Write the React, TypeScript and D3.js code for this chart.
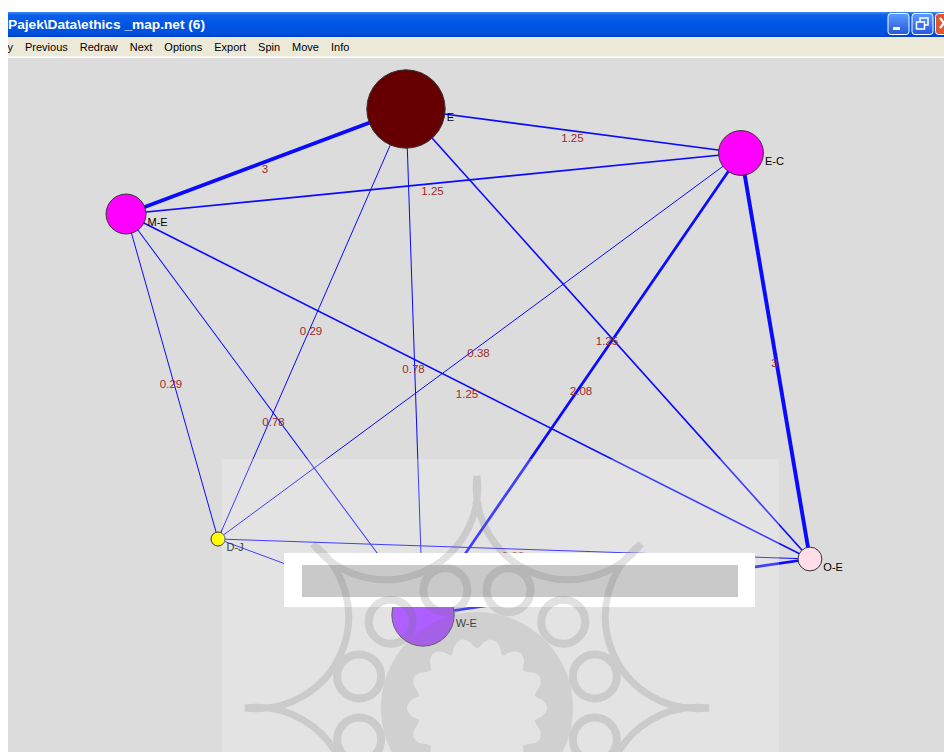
import { useEffect, useRef } from "react";
import * as d3 from "d3";

// Pajek network: vertex layout in Pajek's 0..1 coordinates
const nodeNames = ["E", "M-E", "E-C", "D-J", "O-E", "W-E"];
const nodeX = [0.4252, 0.1261, 0.7831, 0.2244, 0.8568, 0.4434];
const nodeY = [0.0735, 0.2248, 0.1369, 0.6931, 0.7219, 0.8026];
const nodeSize = [5.6, 2.85, 3.2, 1.0, 1.7, 4.45];
const nodeColors = ["#660000", "#ff00ff", "#ff00ff", "#ffff00", "#ffdde9", "#9933ff"];

// edges (source, target, value)
const edgeSource = ["E", "E", "E", "E", "E", "M-E", "M-E", "M-E", "M-E", "E-C", "E-C", "E-C", "D-J", "D-J", "W-E"];
const edgeTarget = ["M-E", "E-C", "D-J", "W-E", "O-E", "E-C", "D-J", "W-E", "O-E", "D-J", "W-E", "O-E", "O-E", "W-E", "O-E"];
const edgeValues = [3, 1.25, 0.29, 0.78, 1.25, 1.25, 0.29, 0.78, 1.25, 0.38, 2.08, 3, 0.38, 0.38, 2.08];

const menuItems = ["y", "Previous", "Redraw", "Next", "Options", "Export", "Spin", "Move", "Info"];
const windowTitle = "Pajek\\Data\\ethics _map.net (6)";

const W = 944;
const H = 752;

export default function App() {
  const ref = useRef<SVGSVGElement>(null);

  useEffect(() => {
    const svg = d3.select(ref.current);
    svg.selectAll("*").remove();

    const defs = svg.append("defs");
    const tg = defs.append("linearGradient").attr("id", "titlebar").attr("x1", 0).attr("y1", 0).attr("x2", 0).attr("y2", 1);
    [
      [0, "#3d8df5"],
      [0.12, "#0b5fe8"],
      [0.5, "#0055e5"],
      [0.88, "#0050dc"],
      [1, "#003fc4"],
    ].forEach(([o, c]) => tg.append("stop").attr("offset", o as number).attr("stop-color", c as string));
    const bg = defs.append("linearGradient").attr("id", "btn").attr("x1", 0).attr("y1", 0).attr("x2", 0).attr("y2", 1);
    bg.append("stop").attr("offset", 0).attr("stop-color", "#5d9bff");
    bg.append("stop").attr("offset", 1).attr("stop-color", "#2458dc");

    // page + window chrome
    svg.append("rect").attr("width", W).attr("height", H).attr("fill", "#ffffff");
    svg.append("rect").attr("x", 8).attr("y", 12).attr("width", W - 8).attr("height", 25).attr("fill", "url(#titlebar)");
    svg
      .append("text")
      .attr("x", 8)
      .attr("y", 29)
      .attr("fill", "#ffffff")
      .attr("font-family", "Liberation Sans, Arial, sans-serif")
      .attr("font-weight", "bold")
      .attr("font-size", 13)
      .attr("textLength", 197)
      .attr("lengthAdjust", "spacingAndGlyphs")
      .text(windowTitle);

    // title buttons
    const btn = svg.append("g");
    btn.append("rect").attr("x", 888).attr("y", 13.5).attr("width", 21).attr("height", 21).attr("rx", 3).attr("fill", "url(#btn)").attr("stroke", "#ffffff");
    btn.append("rect").attr("x", 893).attr("y", 27).attr("width", 7).attr("height", 3).attr("fill", "#ffffff");
    btn.append("rect").attr("x", 912).attr("y", 13.5).attr("width", 21).attr("height", 21).attr("rx", 3).attr("fill", "url(#btn)").attr("stroke", "#ffffff");
    btn.append("rect").attr("x", 920).attr("y", 18).attr("width", 8).attr("height", 7).attr("fill", "none").attr("stroke", "#ffffff").attr("stroke-width", 1.5);
    btn.append("rect").attr("x", 916.5).attr("y", 22).attr("width", 8).attr("height", 7).attr("fill", "#3a6fe8").attr("stroke", "#ffffff").attr("stroke-width", 1.5);
    btn.append("rect").attr("x", 935.5).attr("y", 13.5).attr("width", 21).attr("height", 21).attr("rx", 3).attr("fill", "#e2562f").attr("stroke", "#ffffff");
    btn.append("path").attr("d", "M940,18 L948,28 M948,18 L940,28").attr("stroke", "#ffffff").attr("stroke-width", 2.2);

    // menu bar
    svg.append("rect").attr("x", 8).attr("y", 37).attr("width", W - 8).attr("height", 20).attr("fill", "#ece9d8");
    svg.append("rect").attr("x", 8).attr("y", 56).attr("width", W - 8).attr("height", 1.5).attr("fill", "#f6f5ef");
    let mx = 7.5;
    menuItems.forEach((m) => {
      const t = svg
        .append("text")
        .attr("x", mx)
        .attr("y", 50.5)
        .attr("font-family", "Liberation Sans, Arial, sans-serif")
        .attr("font-size", 11)
        .attr("fill", "#000000")
        .text(m);
      mx += (t.node() as SVGTextElement).getComputedTextLength() + 12;
    });

    // drawing area
    svg.append("rect").attr("x", 8).attr("y", 58).attr("width", W - 8).attr("height", H - 58).attr("fill", "#dcdcdc");

    const x = d3.scaleLinear().domain([0, 1]).range([8, W]);
    const y = d3.scaleLinear().domain([0, 1]).range([58, H]);
    const r = d3.scaleLinear().domain([0, 1]).range([0, 7]);
    const w = d3.scaleLinear().domain([0, 3]).range([0, 3.9]);

    const nodes = nodeNames.map((name, i) => ({
      name,
      cx: x(nodeX[i]),
      cy: y(nodeY[i]),
      r: r(nodeSize[i]),
      color: nodeColors[i],
    }));
    const byName = new Map(nodes.map((n) => [n.name, n]));
    const edges = edgeValues.map((v, i) => ({
      s: byName.get(edgeSource[i])!,
      t: byName.get(edgeTarget[i])!,
      v,
    }));

    const g = svg.append("g");
    g.selectAll(".edge")
      .data(edges)
      .enter()
      .append("line")
      .attr("x1", (d) => d.s.cx)
      .attr("y1", (d) => d.s.cy)
      .attr("x2", (d) => d.t.cx)
      .attr("y2", (d) => d.t.cy)
      .attr("stroke", "#0a0aff")
      .attr("stroke-width", (d) => Math.max(1, w(d.v)));

    g.selectAll(".edge-label")
      .data(edges)
      .enter()
      .append("text")
      .attr("x", (d) => (d.s.cx + d.t.cx) / 2 - 1)
      .attr("y", (d) => (d.s.cy + d.t.cy) / 2 + 11)
      .attr("text-anchor", "middle")
      .attr("font-family", "Liberation Sans, Arial, sans-serif")
      .attr("font-size", 11.5)
      .attr("fill", "#9c2b2b")
      .text((d) => d3.format(".2~f")(d.v));

    g.selectAll(".node")
      .data(nodes)
      .enter()
      .append("circle")
      .attr("cx", (d) => d.cx)
      .attr("cy", (d) => d.cy)
      .attr("r", (d) => d.r)
      .attr("fill", (d) => d.color)
      .attr("stroke", "#333333")
      .attr("stroke-width", 1);

    g.selectAll(".node-label")
      .data(nodes)
      .enter()
      .append("text")
      .attr("x", (d) => d.cx + d.r + 1.5)
      .attr("y", (d) => d.cy + 12)
      .attr("font-family", "Liberation Sans, Arial, sans-serif")
      .attr("font-size", 11)
      .attr("fill", "#000000")
      .text((d) => d.name);

    // lighter watermark panel
    svg.append("rect").attr("x", 222).attr("y", 459).attr("width", 557).attr("height", H - 459).attr("fill", "#ffffff").attr("opacity", 0.22);

    // white caption box with grey bar
    svg.append("rect").attr("x", 284).attr("y", 553).attr("width", 471).attr("height", 54).attr("fill", "#ffffff");
    svg.append("rect").attr("x", 302).attr("y", 565).attr("width", 436).attr("height", 32).attr("fill", "#c9c9c9");

    // mandala watermark
    const cx = 477;
    const cy = 708;
    const wm = svg.append("g").attr("opacity", 0.2).attr("fill", "#6e6e6e").attr("stroke", "#6e6e6e");
    const pol = (a: number, rad: number): [number, number] => [
      cx + rad * Math.cos((a * Math.PI) / 180),
      cy + rad * Math.sin((a * Math.PI) / 180),
    ];

    // concave star arms: arc from one tip to the next, bowing toward the centre
    let star = "";
    for (let k = 0; k < 8; k++) {
      const a = -90 + 45 * k;
      const [tx, ty] = pol(a, 232);
      const [nx, ny] = pol(a + 45, 232);
      star += `M${tx},${ty} A92,92 0 0,0 ${nx},${ny} `;
    }
    wm.append("path").attr("d", star).attr("fill", "none").attr("stroke-width", 7);

    // ring band with a flower-shaped hole
    const flowerPts = d3.range(0, 360, 4).map((a) => pol(a, 58 + 12 * Math.abs(Math.cos((7 * a * Math.PI) / 180))));
    const flower = d3.line().curve(d3.curveCardinalClosed)(flowerPts) || "";
    const outer = `M${cx + 96},${cy} A96,96 0 1,0 ${cx - 96},${cy} A96,96 0 1,0 ${cx + 96},${cy} Z`;
    wm.append("path").attr("d", `${outer} ${flower}`).attr("fill-rule", "evenodd").attr("stroke", "none").attr("fill-opacity", 0.8);

    for (let k = 0; k < 12; k++) {
      const [ox, oy] = pol(-75 + 30 * k, 122);
      wm.append("circle").attr("cx", ox).attr("cy", oy).attr("r", 22).attr("fill", "none").attr("stroke-width", 8);
    }

    // left white margin of the screenshot
    svg.append("rect").attr("x", 0).attr("y", 0).attr("width", 8).attr("height", H).attr("fill", "#ffffff");
  }, []);

  return <svg ref={ref} width={W} height={H} style={{ position: "absolute", left: 0, top: 0 }} />;
}
